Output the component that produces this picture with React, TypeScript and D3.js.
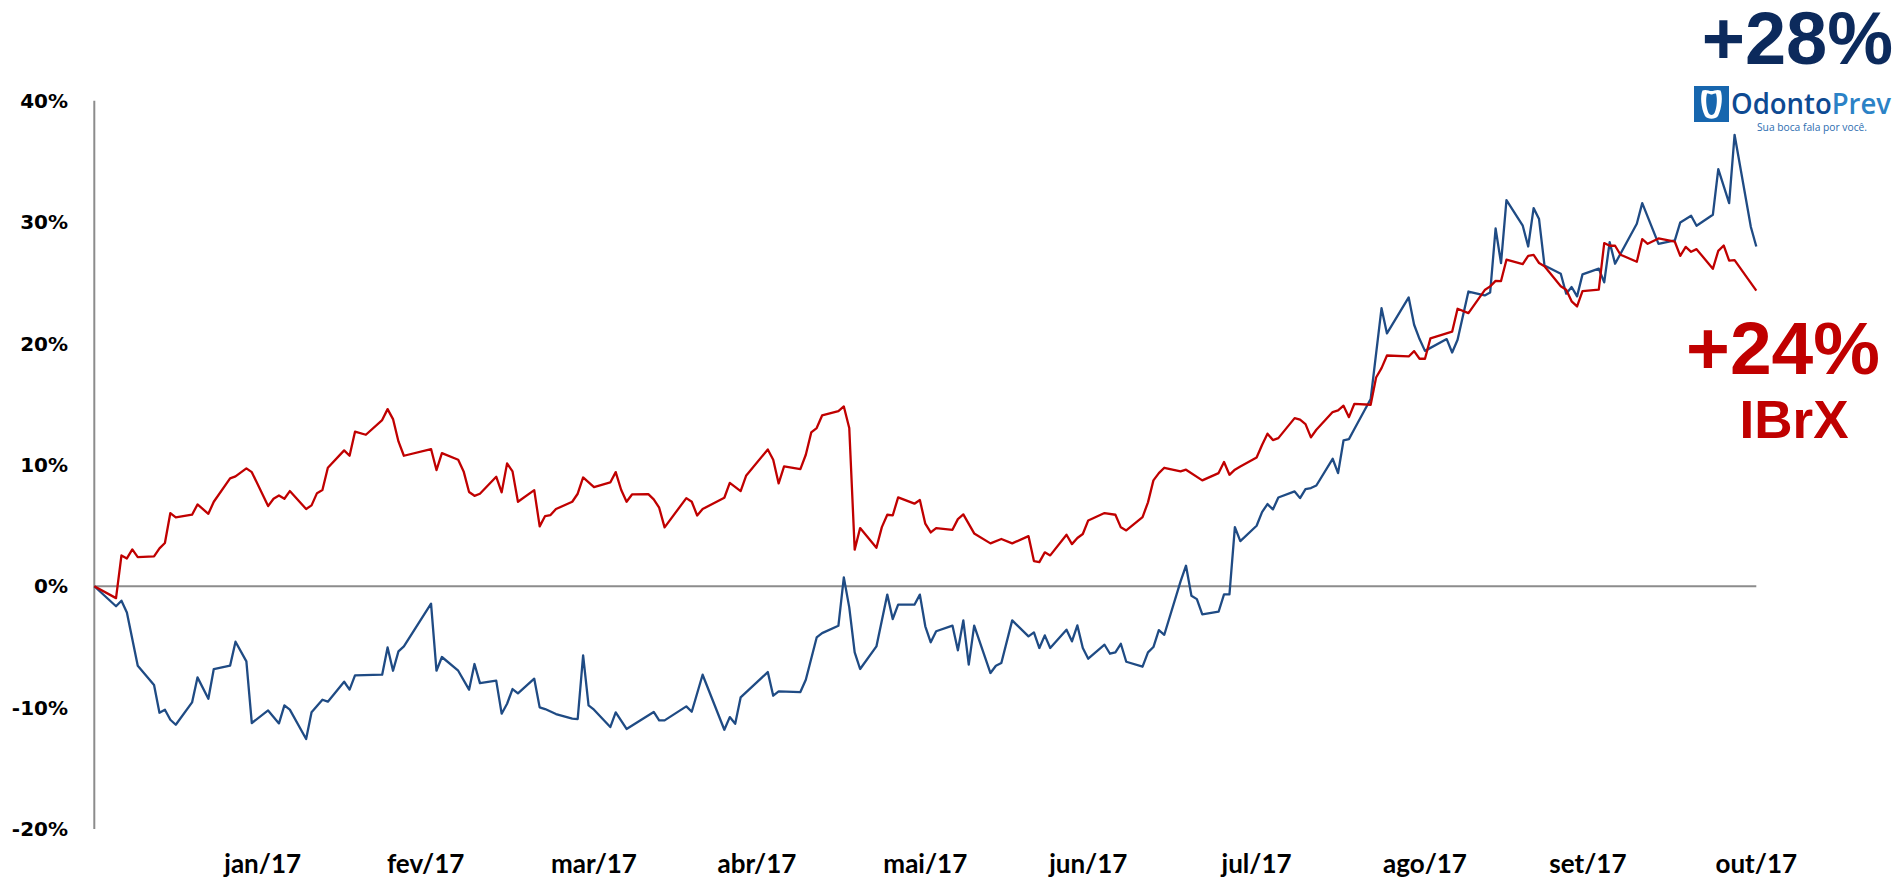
import React from "react";
import * as d3 from "d3";

// Day offsets (calendar days from the first observation) and cumulative return in %
const odontoPrevSeries: [number, number][] = [
  [0, 0], [4, -1.65], [5, -1.19], [6, -2.16], [8, -6.55], [11, -8.14], [12, -10.42], [13, -10.17],
  [14, -11.0], [15, -11.41], [18, -9.57], [19, -7.51], [21, -9.27], [22, -6.82], [25, -6.55],
  [26, -4.57], [28, -6.19], [29, -11.27], [32, -10.23], [34, -11.3], [35, -9.82], [36, -10.17],
  [39, -12.59], [40, -10.39], [42, -9.35], [43, -9.51], [46, -7.87], [47, -8.52], [48, -7.34],
  [53, -7.29], [54, -5.04], [55, -6.96], [56, -5.37], [57, -4.96], [62, -1.44], [63, -6.96],
  [64, -5.83], [67, -6.96], [69, -8.52], [70, -6.41], [71, -7.98], [74, -7.78], [75, -10.5],
  [76, -9.68], [77, -8.47], [78, -8.83], [81, -7.62], [82, -9.98], [83, -10.12], [85, -10.53],
  [88, -10.91], [89, -10.94], [90, -5.7], [91, -9.82], [92, -10.17], [95, -11.6], [96, -10.39],
  [98, -11.76], [103, -10.36], [104, -11.05], [105, -11.05], [109, -9.9], [110, -10.34],
  [112, -7.29], [116, -11.82], [117, -10.78], [118, -11.33], [119, -9.16], [124, -7.07],
  [125, -9.02], [126, -8.66], [130, -8.72], [131, -7.7], [133, -4.22], [134, -3.86], [137, -3.26],
  [138, 0.73], [139, -1.74], [140, -5.45], [141, -6.82], [144, -4.96], [146, -0.69], [147, -2.7],
  [148, -1.52], [151, -1.52], [152, -0.69], [153, -3.3], [154, -4.62], [155, -3.71], [158, -3.24],
  [159, -5.28], [160, -2.81], [161, -6.46], [162, -3.24], [165, -7.15], [166, -6.55], [167, -6.33],
  [169, -2.81], [172, -4.13], [173, -3.8], [174, -5.09], [175, -4.05], [176, -5.09], [179, -3.58],
  [180, -4.54], [181, -3.23], [182, -5.09], [183, -5.97], [186, -4.82], [187, -5.56], [188, -5.45],
  [189, -4.74], [190, -6.22], [193, -6.63], [194, -5.45], [195, -5.01], [196, -3.62], [197, -4.0],
  [200, 0.4], [201, 1.69], [202, -0.78], [203, -1.06], [204, -2.32], [207, -2.1], [208, -0.67],
  [209, -0.67], [210, 4.87], [211, 3.72], [214, 4.98], [215, 6.11], [216, 6.77], [217, 6.33],
  [218, 7.31], [221, 7.81], [222, 7.26], [223, 8.0], [224, 8.09], [225, 8.3], [228, 10.5],
  [229, 9.32], [230, 12.01], [231, 12.12], [232, 12.95], [235, 15.42], [237, 22.91], [238, 20.83],
  [242, 23.79], [243, 21.54], [244, 20.36], [245, 19.39], [249, 20.36], [250, 19.26], [251, 20.3],
  [253, 24.28], [256, 23.96], [257, 24.2], [258, 29.47], [259, 26.62], [260, 31.81], [263, 29.7],
  [264, 27.99], [265, 31.15], [266, 30.25], [267, 26.43], [270, 25.74], [271, 24.1], [272, 24.65],
  [273, 23.88], [274, 25.69], [277, 26.16], [278, 25.03], [279, 28.35], [280, 26.57], [284, 29.86],
  [285, 31.56], [288, 28.21], [291, 28.49], [292, 29.97], [294, 30.52], [295, 29.7], [298, 30.6],
  [299, 34.36], [301, 31.56], [302, 37.19], [305, 29.59], [306, 27.99],
];

const ibrxSeries: [number, number][] = [
  [0, 0], [4, -0.98], [5, 2.54], [6, 2.29], [7, 3.03], [8, 2.4], [11, 2.46], [12, 3.12], [13, 3.56],
  [14, 6.03], [15, 5.67], [18, 5.89], [19, 6.74], [21, 5.97], [22, 6.96], [25, 8.88], [26, 9.05],
  [28, 9.71], [29, 9.4], [32, 6.6], [33, 7.21], [34, 7.48], [35, 7.21], [36, 7.84], [39, 6.36],
  [40, 6.66], [41, 7.67], [42, 7.92], [43, 9.76], [46, 11.19], [47, 10.75], [48, 12.73], [50, 12.48],
  [53, 13.69], [54, 14.59], [55, 13.77], [56, 11.93], [57, 10.75], [62, 11.3], [63, 9.57], [64, 10.97],
  [67, 10.42], [68, 9.46], [69, 7.76], [70, 7.45], [71, 7.62], [74, 9.02], [75, 7.73], [76, 10.12],
  [77, 9.46], [78, 6.96], [81, 7.92], [82, 4.93], [83, 5.78], [84, 5.86], [85, 6.36], [88, 6.96],
  [89, 7.62], [90, 8.96], [92, 8.17], [95, 8.55], [96, 9.4], [97, 7.95], [98, 6.96], [99, 7.56],
  [102, 7.59], [103, 7.15], [104, 6.47], [105, 4.85], [109, 7.26], [110, 6.96], [111, 5.83],
  [112, 6.36], [116, 7.29], [117, 8.52], [119, 7.84], [120, 9.1], [124, 11.27], [125, 10.42],
  [126, 8.47], [127, 9.87], [130, 9.65], [131, 10.83], [132, 12.67], [133, 13.03], [134, 14.07],
  [137, 14.43], [138, 14.81], [139, 13.03], [140, 3.01], [141, 4.79], [144, 3.17], [145, 4.87],
  [146, 5.89], [147, 5.83], [148, 7.32], [151, 6.8], [152, 7.1], [153, 5.15], [154, 4.43], [155, 4.79],
  [158, 4.65], [159, 5.53], [160, 5.92], [162, 4.35], [165, 3.53], [167, 3.89], [169, 3.53],
  [172, 4.13], [173, 2.07], [174, 1.99], [175, 2.79], [176, 2.54], [179, 4.24], [180, 3.47],
  [181, 3.97], [182, 4.3], [183, 5.42], [186, 6.03], [188, 5.89], [189, 4.85], [190, 4.6], [193, 5.7],
  [194, 6.91], [195, 8.72], [196, 9.32], [197, 9.76], [200, 9.46], [201, 9.6], [204, 8.72],
  [207, 9.32], [208, 10.23], [209, 9.18], [210, 9.6], [211, 9.87], [214, 10.61], [215, 11.63],
  [216, 12.57], [217, 12.04], [218, 12.2], [221, 13.85], [222, 13.72], [223, 13.36], [224, 12.26],
  [225, 12.89], [228, 14.35], [229, 14.48], [230, 14.87], [231, 13.93], [232, 15.03], [235, 14.95],
  [236, 17.2], [237, 17.97], [238, 19.01], [242, 18.93], [243, 19.37], [244, 18.74], [245, 18.74],
  [246, 20.42], [250, 20.97], [251, 22.86], [253, 22.5], [256, 24.4], [257, 24.7], [258, 25.16],
  [259, 25.14], [260, 26.9], [263, 26.54], [264, 27.22], [265, 27.29], [266, 26.63], [267, 26.36],
  [270, 24.71], [271, 24.43], [272, 23.47], [273, 23.05], [274, 24.32], [277, 24.43], [278, 28.27],
  [279, 28.05], [280, 28.05], [281, 27.31], [284, 26.73], [285, 28.6], [286, 28.21], [288, 28.65],
  [291, 28.38], [292, 27.22], [293, 27.96], [294, 27.55], [295, 27.77], [298, 26.15], [299, 27.63],
  [300, 28.07], [301, 26.82], [302, 26.87], [306, 24.35],
];

const yTicks = [-20, -10, 0, 10, 20, 30, 40];
const monthLabels = ["jan/17", "fev/17", "mar/17", "abr/17", "mai/17", "jun/17", "jul/17", "ago/17", "set/17", "out/17"];
const monthTickDays = [31, 61, 92, 122, 153, 183, 214, 245, 275, 306];
const dayDomain = [0, 306];
const valueDomain = [-20, 40];

const odontoLabel = "+28%";
const ibrxLabel = "+24%";
const ibrxName = "IBrX";

export default function App() {
  const x = d3.scaleLinear().domain(dayDomain).range([94.3, 1756.3]);
  const y = d3.scaleLinear().domain(valueDomain).range([829, 100.7]);
  const line = d3
    .line<[number, number]>()
    .x((d) => x(d[0]))
    .y((d) => y(d[1]));

  const navy = "#0C2A5C";
  const red = "#C00000";
  const blue = "#1F4B84";
  const axisGray = "#8C8C8C";

  return (
    <svg
      width={1903}
      height={879}
      style={{ position: "absolute", left: 0, top: 0, display: "block", background: "#fff" }}
    >
      {/* y axis */}
      <line x1={x(0)} x2={x(0)} y1={y(40)} y2={y(-20)} stroke={axisGray} strokeWidth={2} />
      {/* zero line */}
      <line x1={x(0)} x2={x(dayDomain[1])} y1={y(0)} y2={y(0)} stroke={axisGray} strokeWidth={2} />

      {yTicks.map((t) => (
        <text
          key={t}
          x={68}
          y={y(t)}
          dy="0.36em"
          textAnchor="end"
          fontFamily="'DejaVu Sans', Verdana, sans-serif"
          fontWeight="bold"
          fontSize={20}
          fill="#000"
        >
          {`${t}%`}
        </text>
      ))}

      {monthLabels.map((m, i) => (
        <text
          key={m}
          x={x(monthTickDays[i])}
          y={873}
          textAnchor="middle"
          fontFamily="Lato, 'Open Sans', sans-serif"
          fontWeight="bold"
          fontSize={26}
          fill="#000"
        >
          {m}
        </text>
      ))}

      <path
        d={line(odontoPrevSeries) || ""}
        fill="none"
        stroke={blue}
        strokeWidth={2.3}
        strokeLinejoin="round"
      />
      <path
        d={line(ibrxSeries) || ""}
        fill="none"
        stroke={red}
        strokeWidth={2.3}
        strokeLinejoin="round"
      />

      {/* OdontoPrev annotation */}
      <text
        x={1893}
        y={64}
        textAnchor="end"
        fontFamily="'Liberation Sans', Arial, sans-serif"
        fontWeight="bold"
        fontSize={74}
        fill={navy}
      >
        {odontoLabel}
      </text>
      <g>
        <rect x={1694} y={86} width={35} height={36} fill="#1766AE" />
        <path
          d="M1702.5,90.5 C1706,89 1709,91 1711.5,91 C1714,91 1717,89 1720.5,90.5 C1723,96 1722,108 1718,116 C1715.5,119.5 1707.5,119.5 1705,116 C1701,108 1700,96 1702.5,90.5 Z"
          fill="#fff"
        />
        <path
          d="M1707,93.5 C1709,93 1710.5,94.5 1711.5,94.5 C1712.5,94.5 1714,93 1716,93.5 C1717.5,99 1717,107 1714.5,113 C1713,115.5 1710,115.5 1708.5,113 C1706,107 1705.5,99 1707,93.5 Z"
          fill="#1766AE"
        />
      </g>
      <text
        x={1731}
        y={114}
        fontFamily="'Open Sans', 'Liberation Sans', sans-serif"
        fontWeight={600}
        fontSize={28}
        textLength={160}
        lengthAdjust="spacingAndGlyphs"
      >
        <tspan fill="#0E4A92">Odonto</tspan>
        <tspan fill="#2B82C6">Prev</tspan>
      </text>
      <text
        x={1757}
        y={131}
        fontFamily="'Open Sans', 'Liberation Sans', sans-serif"
        fontSize={11}
        textLength={110}
        lengthAdjust="spacingAndGlyphs"
        fill="#2C6DB0"
      >
        Sua boca fala por você.
      </text>

      {/* IBrX annotation */}
      <text
        x={1880}
        y={374}
        textAnchor="end"
        fontFamily="'Liberation Sans', Arial, sans-serif"
        fontWeight="bold"
        fontSize={75}
        fill={red}
      >
        {ibrxLabel}
      </text>
      <text
        x={1794}
        y={438}
        textAnchor="middle"
        fontFamily="'Liberation Sans', Arial, sans-serif"
        fontWeight="bold"
        fontSize={53}
        fill={red}
      >
        {ibrxName}
      </text>
    </svg>
  );
}
